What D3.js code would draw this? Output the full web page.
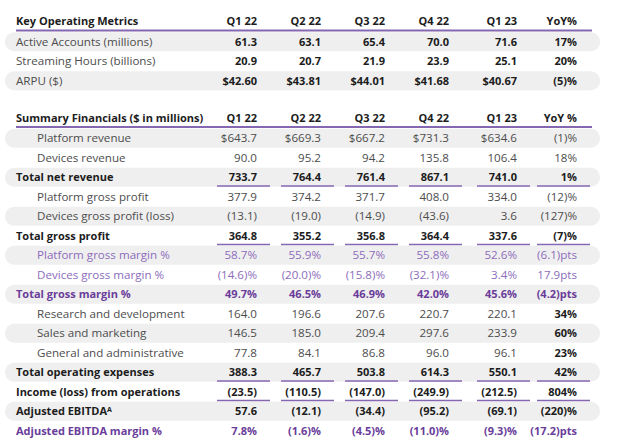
<!DOCTYPE html>
<html><head><meta charset="utf-8">
<script src="https://cdn.jsdelivr.net/npm/d3@7/dist/d3.min.js"></script>
<style>
html,body{margin:0;padding:0;background:#fff;}
svg text{font-family:"Open Sans",sans-serif;}
</style></head>
<body><svg id="c" width="640" height="448"></svg>
<script>
// ---------- data ----------
const quarters = ["Q1 22","Q2 22","Q3 22","Q4 22","Q1 23"];
const kpiLabels = ["Active Accounts (millions)","Streaming Hours (billions)","ARPU ($)"];
const activeAccounts = [61.3,63.1,65.4,70.0,71.6];
const streamingHours = [20.9,20.7,21.9,23.9,25.1];
const arpu = [42.60,43.81,44.01,41.68,40.67];
const kpiYoY = [17,20,-5];

const finLabels = ["Platform revenue","Devices revenue","Total net revenue","Platform gross profit",
  "Devices gross profit (loss)","Total gross profit","Platform gross margin %","Devices gross margin %",
  "Total gross margin %","Research and development","Sales and marketing","General and administrative",
  "Total operating expenses","Income (loss) from operations","Adjusted EBITDA","Adjusted EBITDA margin %"];
const platformRevenue = [643.7,669.3,667.2,731.3,634.6];
const devicesRevenue = [90.0,95.2,94.2,135.8,106.4];
const totalNetRevenue = [733.7,764.4,761.4,867.1,741.0];
const platformGrossProfit = [377.9,374.2,371.7,408.0,334.0];
const devicesGrossProfit = [-13.1,-19.0,-14.9,-43.6,3.6];
const totalGrossProfit = [364.8,355.2,356.8,364.4,337.6];
const platformGrossMargin = [58.7,55.9,55.7,55.8,52.6];
const devicesGrossMargin = [-14.6,-20.0,-15.8,-32.1,3.4];
const totalGrossMargin = [49.7,46.5,46.9,42.0,45.6];
const researchDev = [164.0,196.6,207.6,220.7,220.1];
const salesMarketing = [146.5,185.0,209.4,297.6,233.9];
const generalAdmin = [77.8,84.1,86.8,96.0,96.1];
const totalOpex = [388.3,465.7,503.8,614.3,550.1];
const incomeOps = [-23.5,-110.5,-147.0,-249.9,-212.5];
const adjEbitda = [57.6,-12.1,-34.4,-95.2,-69.1];
const adjEbitdaMargin = [7.8,-1.6,-4.5,-11.0,-9.3];
const finYoY = [-1,18,1,-12,-127,-7,-6.1,17.9,-4.2,34,60,23,42,804,-220,-17.2];

// ---------- formatting ----------
const f1 = d3.format(",.1f"), f2 = d3.format(",.2f");
const paren = (v, s, suf="") => v < 0 ? "(" + s + ")" + suf : s + suf;
const fmt = {
  num: v => paren(v, f1(Math.abs(v))),
  usd: v => paren(v, "$" + f1(Math.abs(v))),
  usd2: v => paren(v, "$" + f2(Math.abs(v))),
  pct: v => paren(v, f1(Math.abs(v)), "%"),
  yoy: v => paren(v, d3.format(",")(Math.abs(v)), "%"),
  pts: v => paren(v, f1(Math.abs(v)), "pts")
};

const GRAY = "#4d4d4d", BLACK = "#1c1c1c", PURPLE = "#6a3d9a", LPURPLE = "#8c6cbb", LINE = "#8467b0", BAND = "#efefef";
const FS_B = 11, FS_R = 11.6;

const kpiRows = [
  {label:kpiLabels[0], vals:activeAccounts, f:fmt.num, yoy:kpiYoY[0], yf:fmt.yoy},
  {label:kpiLabels[1], vals:streamingHours, f:fmt.num, yoy:kpiYoY[1], yf:fmt.yoy},
  {label:kpiLabels[2], vals:arpu, f:fmt.usd2, yoy:kpiYoY[2], yf:fmt.yoy}
];
const S = {
  sub:{indent:true, color:GRAY, bold:false},
  tot:{indent:false, color:BLACK, bold:true},
  mar:{indent:true, color:LPURPLE, bold:false},
  tmar:{indent:false, color:PURPLE, bold:true}
};
const finSeries = [platformRevenue,devicesRevenue,totalNetRevenue,platformGrossProfit,devicesGrossProfit,
  totalGrossProfit,platformGrossMargin,devicesGrossMargin,totalGrossMargin,researchDev,salesMarketing,
  generalAdmin,totalOpex,incomeOps,adjEbitda,adjEbitdaMargin];
const finStyle = ["sub","sub","tot","sub","sub","tot","mar","mar","tmar","sub","sub","sub","tot","tot","tot","tmar"];
const finFmt = ["usd","num","num","num","num","num","pct","pct","pct","num","num","num","num","num","num","pct"];
const finYfmt = ["yoy","yoy","yoy","yoy","yoy","yoy","pts","pts","pts","yoy","yoy","yoy","yoy","yoy","yoy","pts"];
const finUnder = [2,5,12,13];
const yoyBold = [9,10,11];
const finRows = finLabels.map((l,i)=>({label:l, vals:finSeries[i], f:fmt[finFmt[i]], yoy:finYoY[i], yf:fmt[finYfmt[i]],
  st:S[finStyle[i]], under:finUnder.includes(i), yb:yoyBold.includes(i), sup:i===14}));

// ---------- scales ----------
const colKeys = quarters.concat(["YoY"]);
const x = d3.scaleOrdinal().domain(colKeys).range([257,321,385,449,517,577]);
const svg = d3.select("#c");

function drawTable(rows, title, yoyTitle, yHeader, yFirst, styleFn) {
  const y = d3.scaleBand().domain(d3.range(rows.length)).range([yFirst, yFirst + 19.5*rows.length]).paddingInner(0);
  const g = svg.append("g");
  g.selectAll("rect.band").data(rows.map((r,i)=>i).filter(i=>i%2===0)).join("rect")
    .attr("x",5).attr("width",595).attr("y",i=>y(i)+0.25).attr("height",19).attr("rx",9).attr("fill",BAND);
  g.append("text").attr("x",16).attr("y",yHeader).attr("dy","0.35em").attr("font-weight",700)
    .attr("font-size",FS_B).attr("fill",BLACK).text(title);
  g.selectAll("text.hq").data(colKeys).join("text").attr("class","hq")
    .attr("x",d=>x(d)).attr("y",yHeader).attr("dy","0.35em").attr("text-anchor","end")
    .attr("font-weight",700).attr("font-size",FS_B).attr("fill",BLACK).text(d=>d==="YoY"?yoyTitle:d);
  g.append("line").attr("x1",16).attr("x2",592).attr("y1",yFirst-1.5).attr("y2",yFirst-1.5)
    .attr("stroke",LINE).attr("stroke-width",2);
  rows.forEach((r,i)=>{
    const st = styleFn(r);
    const cy = y(i) + y.bandwidth()/2;
    const lt = g.append("text").attr("x",st.indent?37:16).attr("y",cy).attr("dy","0.35em")
      .attr("font-size",st.bold?FS_B:FS_R).attr("font-weight",st.bold?700:400).attr("fill",st.color).text(r.label);
    if (r.sup) lt.append("tspan").attr("font-size",7).attr("dy","-0.45em").text("A");
    const vb = st.vbold || st.bold;
    g.selectAll(null).data(r.vals).join("text")
      .attr("x",(d,j)=>x(quarters[j])).attr("y",cy).attr("dy","0.35em").attr("text-anchor","end")
      .attr("font-size",vb?FS_B:FS_R).attr("font-weight",vb?700:400).attr("fill",st.vcolor||st.color)
      .text(d=>r.f(d));
    const yb = st.bold||r.yb||st.ybold;
    g.append("text").attr("x",x("YoY")).attr("y",cy).attr("dy","0.35em").attr("text-anchor","end")
      .attr("font-size",yb?FS_B:FS_R).attr("font-weight",yb?700:400)
      .attr("fill",r.yb?BLACK:(st.vcolor||st.color)).text(r.yf(r.yoy));
    if (r.under) {
      g.selectAll(null).data(colKeys).join("line")
        .attr("x1",d=>x(d)-40).attr("x2",d=>x(d)+13).attr("y1",y(i)+18.5).attr("y2",y(i)+18.5)
        .attr("stroke",LINE).attr("stroke-width",1.5);
    }
  });
}
drawTable(kpiRows,"Key Operating Metrics","YoY%",21,32,()=>({indent:false,color:GRAY,bold:false,vbold:true,vcolor:BLACK,ybold:true}));
drawTable(finRows,"Summary Financials ($ in millions)","YoY %",118,128.5,r=>r.st);
</script></body></html>
